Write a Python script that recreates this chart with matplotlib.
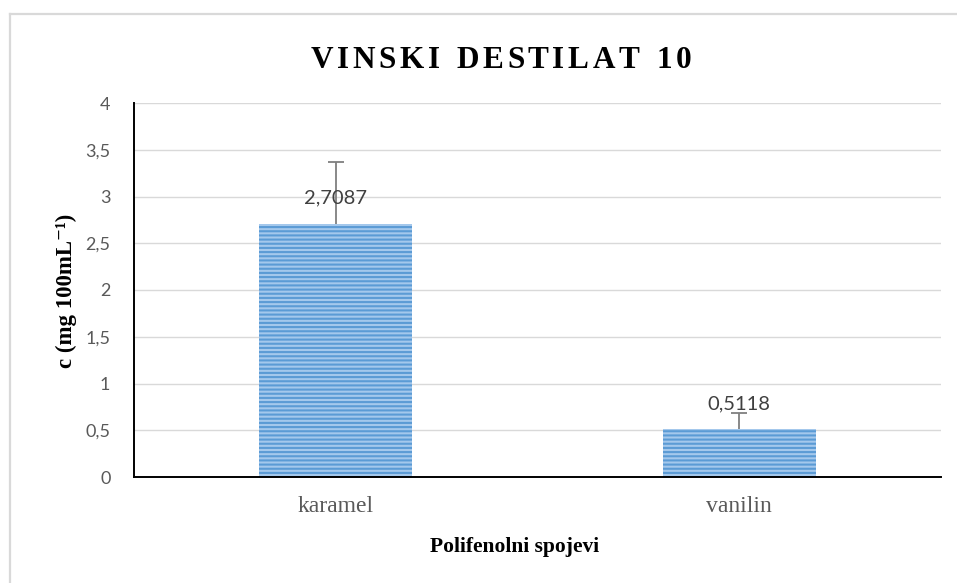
import matplotlib
matplotlib.use("Agg")
import matplotlib.pyplot as plt
from matplotlib.lines import Line2D

categories = ["karamel", "vanilin"]
values = [2.7087, 0.5118]
errors_up = [0.66, 0.17]
value_labels = ["2,7087", "0,5118"]
y_ticks = [0, 0.5, 1, 1.5, 2, 2.5, 3, 3.5, 4]
y_tick_labels = ["0", "0,5", "1", "1,5", "2", "2,5", "3", "3,5", "4"]
title = "VINSKI DESTILAT 10"
x_title = "Polifenolni spojevi"
y_title = "c (mg 100mL\u207b\u00b9)"

W, H = 957, 583
plt.rcParams["hatch.linewidth"] = 1.5
serif = ["Liberation Serif", "DejaVu Serif"]

fig = plt.figure(figsize=(W / 100, H / 100), dpi=100)
ax = fig.add_axes([134 / W, 1 - 477 / H, (941 - 134) / W, (477 - 103) / H])

x = list(range(len(categories)))
ax.bar(x, values, width=0.38, color="#a4c8ec", edgecolor="#5b9bd5",
       linewidth=0, hatch="----", zorder=2)
_, caps, _ = ax.errorbar(x, values, yerr=[[0] * len(values), errors_up], fmt="none",
                         ecolor="#7f7f7f", elinewidth=1.3, capsize=6,
                         capthick=1.3, zorder=3)
# keep only the upper caps
caps[0].set_visible(False)

for xi, v, lab in zip(x, values, value_labels):
    ax.annotate(lab, (xi, v), xytext=(0, 18.5), textcoords="offset points",
                ha="center", va="center", fontsize=14.5, color="#404040",
                family="Lato", zorder=4)

ax.set_xlim(-0.5, 1.5)
ax.set_ylim(0, 4)
ax.set_yticks(y_ticks)
ax.set_yticklabels(y_tick_labels, family="Lato", fontsize=13, color="#595959")
ax.set_xticks(x)
ax.set_xticklabels(categories, family=serif, fontsize=17, color="#595959")
ax.tick_params(axis="both", length=0)
ax.tick_params(axis="y", pad=17)
ax.tick_params(axis="x", pad=14)

ax.grid(axis="y", color="#d9d9d9", linewidth=1, zorder=0)
ax.set_axisbelow(True)
for s in ("top", "right"):
    ax.spines[s].set_visible(False)
for s in ("left", "bottom"):
    ax.spines[s].set_color("black")
    ax.spines[s].set_linewidth(1.4)

fig.text(515 / W, 1 - 547 / H, x_title, family=serif, fontweight="bold",
         fontsize=15.5, ha="center", va="center")
fig.text(66 / W, 1 - 291 / H, y_title, family=serif, fontweight="bold",
         fontsize=16.5, ha="center", va="center", rotation=90)

# title with widened letter spacing
fig.canvas.draw()
renderer = fig.canvas.get_renderer()
tracking = 3.6
title_kw = dict(family=serif, fontweight="bold", fontsize=22.5,
                color="black", va="center", ha="left")
widths = []
for ch in title:
    t = fig.text(0, 0, ch if ch != " " else "n", **title_kw)
    w = t.get_window_extent(renderer).width
    if ch == " ":
        w *= 0.55
    widths.append(w)
    t.remove()
total = sum(widths) + tracking * (len(title) - 1)
cx, cy = 501, 60
xpos = cx - total / 2
for ch, w in zip(title, widths):
    if ch != " ":
        fig.text(xpos / W, 1 - cy / H, ch, **title_kw)
    xpos += w + tracking

# outer chart frame (top and left edges)
fig.add_artist(Line2D([9.5 / W, 1], [1 - 13.5 / H, 1 - 13.5 / H],
                      transform=fig.transFigure, color="#d9d9d9", linewidth=1.6))
fig.add_artist(Line2D([9.5 / W, 9.5 / W], [0, 1 - 13.5 / H],
                      transform=fig.transFigure, color="#d9d9d9", linewidth=1.6))

fig.savefig("out.png", dpi=100)
